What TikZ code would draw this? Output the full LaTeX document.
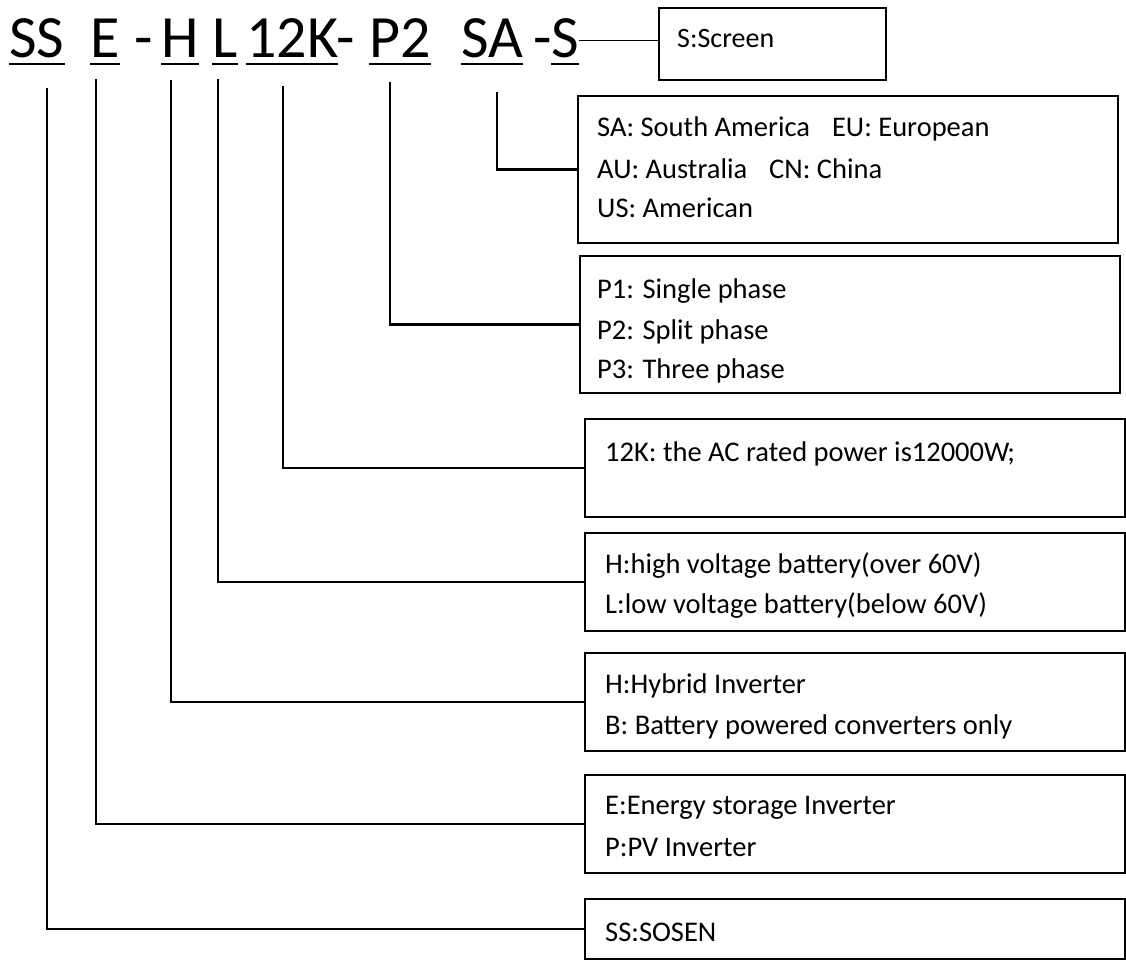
\documentclass[tikz,border=0pt]{standalone}
\usepackage{fontspec}
\setmainfont{Carlito}
\usepackage{tikz}

\begin{document}
\begin{tikzpicture}[x=1pt, y=-1pt,
    code/.style={anchor=base west, inner sep=0pt, font=\fontsize{60}{60}\selectfont},
    box/.style={draw, line width=1.8pt, rectangle, anchor=north west, inner sep=0pt},
    txt/.style={anchor=base west, inner sep=0pt, font=\fontsize{28.5}{28.5}\selectfont},
    link/.style={line width=2.6pt},
    uline/.style={line width=2.4pt}]

    \useasboundingbox (0,0) rectangle (1126,961);

    % Define the parts of the model code
    \node[code] (ss) at (9,57) {SS};
    \node[code] (e) at (90,57) {E};
    \node[code] (d1) at (134,57) {-};
    \node[code] (h) at (161,57) {H};
    \node[code] (l) at (212,57) {L};
    \node[code] (kw) at (246,57) {12K};
    \node[code] (d2) at (336,57) {-};
    \node[code] (p) at (369,57) {P2};
    \node[code] (sa) at (461,57) {SA};
    \node[code] (d3) at (533,57) {-};
    \node[code] (s) at (551,57) {S};
    % Underline each part
    \foreach \n in {ss,e,h,l,kw,p,sa,s}
        \draw[uline] ([yshift=-7pt]\n.base west) -- ([yshift=-7pt]\n.base east);

    % Where the connectors start
    \coordinate (ssdrop) at (47,88);
    \coordinate (edrop) at (96,79);
    \coordinate (hdrop) at (171,80);
    \coordinate (ldrop) at (218,79);
    \coordinate (kwdrop) at (283,86);
    \coordinate (pdrop) at (390,82);
    \coordinate (sadrop) at (497,92);

    % Define the boxes
    \node[box, minimum width=227pt, minimum height=72pt] (screen) at (658,7) {};
    \node[box, minimum width=540pt, minimum height=147pt] (region) at (577,95) {};
    \node[box, minimum width=540pt, minimum height=137pt] (phase) at (579,255) {};
    \node[box, minimum width=540pt, minimum height=98pt] (power) at (584,418) {};
    \node[box, minimum width=540pt, minimum height=98pt] (battery) at (584,532) {};
    \node[box, minimum width=540pt, minimum height=98pt] (hybrid) at (584,652) {};
    \node[box, minimum width=540pt, minimum height=98pt] (energy) at (584,774) {};
    \node[box, minimum width=540pt, minimum height=60pt] (sosen) at (584,898) {};

    % Texts in the boxes
    \node[txt, font=\fontsize{28}{28}\selectfont] (t0) at (677,47) {S:Screen};
    \node[txt] (t1) at (597,136) {SA: South America\hspace{22pt}EU: European};
    \node[txt] (t2) at (597,178) {AU: Australia\hspace{22pt}CN: China};
    \node[txt] (t3) at (597,217) {US: American};
    \node[txt] (t4) at (597,298) {P1: Single phase};
    \node[txt] (t5) at (597,339) {P2: Split phase};
    \node[txt] (t6) at (597,378) {P3: Three phase};
    \node[txt] (t7) at (605,461) {12K: the AC rated power is12000W;};
    \node[txt] (t8) at (605,573) {H:high voltage battery(over 60V)};
    \node[txt] (t9) at (605,613) {L:low voltage battery(below 60V)};
    \node[txt] (t10) at (605,693) {H:Hybrid Inverter};
    \node[txt] (t11) at (605,734) {B: Battery powered converters only};
    \node[txt] (t12) at (605,814) {E:Energy storage Inverter};
    \node[txt] (t13) at (605,856) {P:PV Inverter};
    \node[txt] (t14) at (605,941) {SS:SOSEN};

    % Draw the connectors
    \draw[line width=1.2pt] ([yshift=-3pt]s.east) -- ([yshift=-3pt]s.east -| screen.west);
    \draw[link] (sadrop) |- (region.west);
    \draw[link] (pdrop) |- (phase.west);
    \draw[link] (kwdrop) |- (power.west);
    \draw[link] (ldrop) |- (battery.west);
    \draw[link] (hdrop) |- (hybrid.west);
    \draw[link] (edrop) |- (energy.west);
    \draw[link] (ssdrop) |- (sosen.west);
\end{tikzpicture}
\end{document}
